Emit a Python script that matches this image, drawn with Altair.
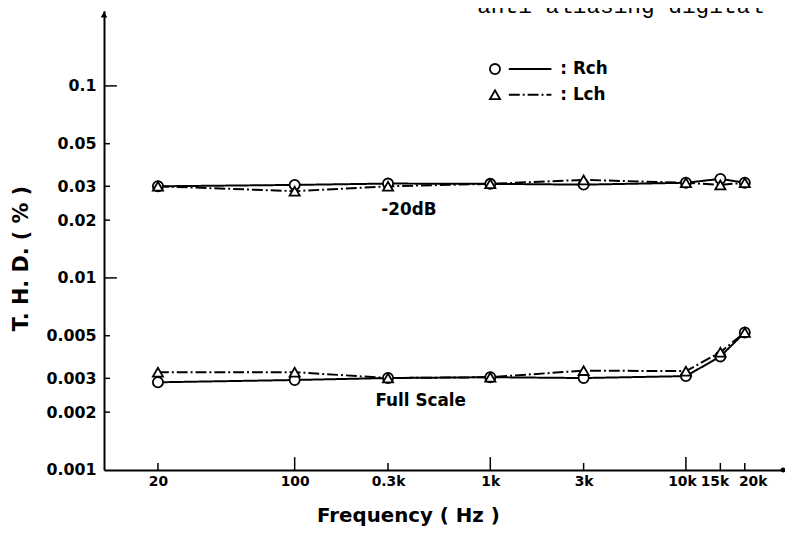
import altair as alt
import pandas as pd

# ---- data ----
freqs = [20, 100, 300, 1000, 3000, 10000, 15000, 20000]
rch_20db = [0.0300, 0.0305, 0.0310, 0.0309, 0.0306, 0.0313, 0.0328, 0.0313]
lch_20db = [0.0300, 0.0283, 0.0300, 0.0309, 0.0324, 0.0313, 0.0305, 0.0313]
rch_fs = [0.00286, 0.00294, 0.00301, 0.00304, 0.00301, 0.00308, 0.00390, 0.00520]
lch_fs = [0.00323, 0.00323, 0.00301, 0.00304, 0.00329, 0.00327, 0.00410, 0.00520]

x_tick_values = [20, 100, 300, 1000, 3000, 10000, 15000, 20000]
x_major_ticks = [100, 1000, 10000]
x_minor_ticks = [20, 300, 3000, 15000, 20000]
y_tick_values = [0.001, 0.002, 0.003, 0.005, 0.01, 0.02, 0.03, 0.05, 0.1]
y_major_ticks = [0.01, 0.1]
y_minor_ticks = [0.002, 0.003, 0.005, 0.02, 0.03, 0.05]

annot_text = ["-20dB", "Full Scale"]
annot_freq = [384, 441]
annot_thd = [0.02243, 0.002296]

# ---- tables ----
rows = []
for lvl, rv, lv in (("-20dB", rch_20db, lch_20db), ("FS", rch_fs, lch_fs)):
    for f, r, l in zip(freqs, rv, lv):
        rows.append({"freq": f, "thd": r, "ch": "Rch", "level": lvl})
        rows.append({"freq": f, "thd": l, "ch": "Lch", "level": lvl})
df = pd.DataFrame(rows)

W, H = 685, 464
FONT = "DejaVu Sans"

xs = alt.Scale(type="log", domain=[10.6, 31000], nice=False)
ys = alt.Scale(type="log", domain=[0.001, 0.2465], nice=False)

x_axis = alt.Axis(
    values=x_tick_values,
    labelExpr="datum.value >= 300 ? (datum.value / 1000) + 'k' : '' + datum.value",
    ticks=False, grid=False, domainColor="black", domainWidth=2,
    labelFont=FONT, labelFontSize=14, labelFontWeight="bold", labelColor="black", labelPadding=5,
    labelOverlap=False, labelFlush=False,
    labelOffset={"condition": [
        {"test": "datum.value == 10000", "value": -4},
        {"test": "datum.value == 15000", "value": -6},
        {"test": "datum.value == 20000", "value": 8},
    ], "value": 0},
    title="Frequency ( Hz )", titleFont=FONT, titleFontSize=20, titleFontWeight="bold",
    titleColor="black", titleX=307, titleY=46, titleBaseline="middle", titleAlign="center",
)
y_axis = alt.Axis(
    values=y_tick_values, format=".3~f",
    ticks=False, grid=False, domainColor="black", domainWidth=2,
    labelFont=FONT, labelFontSize=16, labelFontWeight="bold", labelColor="black", labelPadding=8,
    labelOverlap=False, labelFlush=False,
    title="T. H. D.   ( % )", titleFont=FONT, titleFontSize=21, titleFontWeight="bold",
    titleColor="black", titleX=-83, titleY=250, titleAngle=270,
    titleBaseline="middle", titleAlign="center",
)

base = alt.Chart(df)

dash_scale = alt.Scale(domain=["Rch", "Lch"], range=[[1, 0], [11, 3, 2, 3]])
shape_scale = alt.Scale(domain=["Rch", "Lch"], range=["circle", "triangle-up"])

lines = base.mark_line(color="black", strokeWidth=2).encode(
    x=alt.X("freq:Q", scale=xs, axis=x_axis),
    y=alt.Y("thd:Q", scale=ys, axis=y_axis),
    strokeDash=alt.StrokeDash("ch:N", scale=dash_scale, legend=None),
    detail="level:N",
)

points = base.mark_point(filled=True, fill="white", stroke="black", strokeWidth=1.8, size=105, opacity=1).encode(
    x=alt.X("freq:Q", scale=xs),
    y=alt.Y("thd:Q", scale=ys),
    shape=alt.Shape("ch:N", scale=shape_scale, legend=None),
)

xmaj = alt.Chart(pd.DataFrame({"freq": x_major_ticks})).mark_rule(color="black", strokeWidth=1.5).encode(
    x=alt.X("freq:Q", scale=xs), y=alt.value(H), y2=alt.value(H - 13))
xmin = alt.Chart(pd.DataFrame({"freq": x_minor_ticks})).mark_rule(color="black", strokeWidth=1.5).encode(
    x=alt.X("freq:Q", scale=xs), y=alt.value(H), y2=alt.value(H - 7))
ymaj = alt.Chart(pd.DataFrame({"thd": y_major_ticks})).mark_rule(color="black", strokeWidth=1.5).encode(
    y=alt.Y("thd:Q", scale=ys), x=alt.value(0), x2=alt.value(13))
ymin = alt.Chart(pd.DataFrame({"thd": y_minor_ticks})).mark_rule(color="black", strokeWidth=1.5).encode(
    y=alt.Y("thd:Q", scale=ys), x=alt.value(0), x2=alt.value(6))

# axis arrowheads
arrow_y = alt.Chart(pd.DataFrame({"a": [1]})).mark_point(shape="triangle-up", filled=True, color="black", size=45, opacity=1).encode(
    x=alt.value(0), y=alt.value(4))
arrow_x = alt.Chart(pd.DataFrame({"a": [1]})).mark_point(shape="circle", filled=True, color="black", size=25, opacity=1).encode(
    x=alt.value(W + 1), y=alt.value(H))

annots = alt.Chart(pd.DataFrame({"t": annot_text, "freq": annot_freq, "thd": annot_thd})).mark_text(
    font=FONT, fontSize=17, fontWeight="bold", color="black", align="center", baseline="middle").encode(
    x=alt.X("freq:Q", scale=xs), y=alt.Y("thd:Q", scale=ys), text="t:N")

# legend drawn by hand
leg_pts = alt.Chart(pd.DataFrame({"ch": ["Rch", "Lch"], "py": [59, 85]})).mark_point(
    filled=True, fill="white", stroke="black", strokeWidth=1.8, size=105, opacity=1).encode(
    x=alt.value(395), y=alt.Y("py:Q", scale=None),
    shape=alt.Shape("ch:N", scale=shape_scale, legend=None))
leg_lines = alt.Chart(pd.DataFrame({"ch": ["Rch", "Lch"], "py": [59, 85]})).mark_rule(color="black", strokeWidth=2).encode(
    x=alt.value(409), x2=alt.value(452), y=alt.Y("py:Q", scale=None),
    strokeDash=alt.StrokeDash("ch:N", scale=dash_scale, legend=None))
leg_text = alt.Chart(pd.DataFrame({"t": [": Rch", ": Lch"], "py": [59, 85]})).mark_text(
    font=FONT, fontSize=17, fontWeight="bold", color="black", align="left", baseline="middle").encode(
    x=alt.value(461), y=alt.Y("py:Q", scale=None), text="t:N")

top_text = alt.Chart(pd.DataFrame({"t": ["anti-aliasing digital"]})).mark_text(
    font="Liberation Mono", fontSize=23, color="black", align="left", baseline="alphabetic").encode(
    x=alt.value(377), y=alt.value(2), text="t:N")

chart = alt.layer(
    lines, xmaj, xmin, ymaj, ymin, points, arrow_y, arrow_x, annots, leg_lines, leg_pts, leg_text, top_text
).properties(
    width=W, height=H,
    autosize=alt.AutoSizeParams(type="none"),
    padding={"left": 97, "top": 0, "right": 3, "bottom": 58},
    background="white",
).configure_view(stroke=None)

chart.save("out.html", embed_options={"renderer": "svg", "actions": False})
